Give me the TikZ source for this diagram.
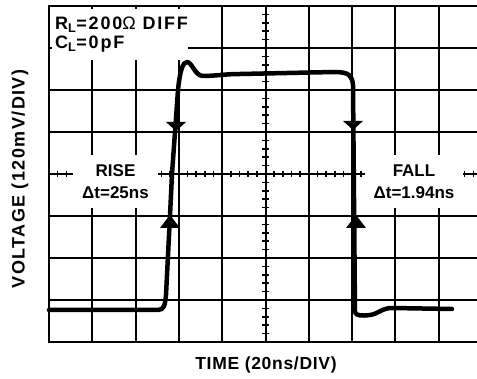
\documentclass[tikz,border=0pt]{standalone}
\usepackage{fontspec}
\setmainfont{Liberation Sans}
\usetikzlibrary{positioning}

\begin{document}
\begin{tikzpicture}[
  x=1pt, y=-1pt,
  every node/.style={font=\fontsize{17}{19}\selectfont\bfseries},
  grid/.style={line width=2pt},
  tick/.style={line width=1.5pt},
  labelbox/.style={fill=white, inner sep=0pt, align=center},
  spaced/.style={font=\fontsize{#1}{19}\selectfont\bfseries\addfontfeature{LetterSpace=10}},
  trace/.style={line width=4.5pt, line join=round, line cap=round},
  marker/.style={fill=black}
]
\useasboundingbox (0,0) rectangle (477,379);

% Grid
\foreach \i in {0,...,9} \draw[grid] (49+43.3*\i,6) -- (49+43.3*\i,342);
\foreach \j in {0,...,8} \draw[grid] (48,6+42*\j) -- (477,6+42*\j);
\foreach \i in {1,...,49} \draw[tick] (49+8.66*\i,171) -- (49+8.66*\i,177);
\foreach \j in {1,...,39} \draw[tick] (262,6+8.4*\j) -- (269,6+8.4*\j);

% Nodes
\fill[white] (52,9) rectangle (188,60);
\node[spaced=18, anchor=base west, inner sep=0pt] (load) at (55,30)
  {R\textsubscript{L}=200{\mdseries Ω} DIFF};
\node[spaced=18, anchor=base west, inner sep=0pt] (cap) at (55,49)
  {C\textsubscript{L}=0pF};
\node[labelbox, minimum width=85pt, minimum height=53pt] (rise) at (115.5,181.5)
  {RISE\\[3pt]Δt=25ns};
\node[labelbox, minimum width=98pt, minimum height=53pt] (fall) at (414,181.5)
  {FALL\\[3pt]Δt=1.94ns};
\node[rotate=90, font=\fontsize{18}{20}\selectfont\bfseries\addfontfeature{LetterSpace=8}]
  (ylabel) at (20,179) {VOLTAGE (120mV/DIV)};
\node[anchor=base, font=\fontsize{17.5}{20}\selectfont\bfseries\addfontfeature{LetterSpace=4}]
  (xlabel) at (266,370) {TIME (20ns/DIV)};

% Trace
\draw[trace] (49,310) -- (158,310) .. controls (164,310) and (165,305) .. (166,295)
  -- (170,216) -- (172,174) -- (175,132) -- (178,90)
  .. controls (180,70) and (183,62) .. (187,62)
  .. controls (192,62) and (195,76) .. (203,76)
  .. controls (215,76) and (225,74) .. (240,74) -- (334,72)
  .. controls (350,72) and (352,76) .. (353,85) -- (355,312)
  .. controls (356,316) and (362,316) .. (370,315)
  .. controls (378,314) and (382,308) .. (392,308) -- (452,309);

% Markers
\fill[marker] (166,122) -- (186,122) -- (176,131) -- cycle;
\fill[marker] (160,228) -- (180,228) -- (170,215) -- cycle;
\fill[marker] (343,121) -- (363,121) -- (353,130) -- cycle;
\fill[marker] (346,228) -- (366,228) -- (356,215) -- cycle;

\end{tikzpicture}
\end{document}
